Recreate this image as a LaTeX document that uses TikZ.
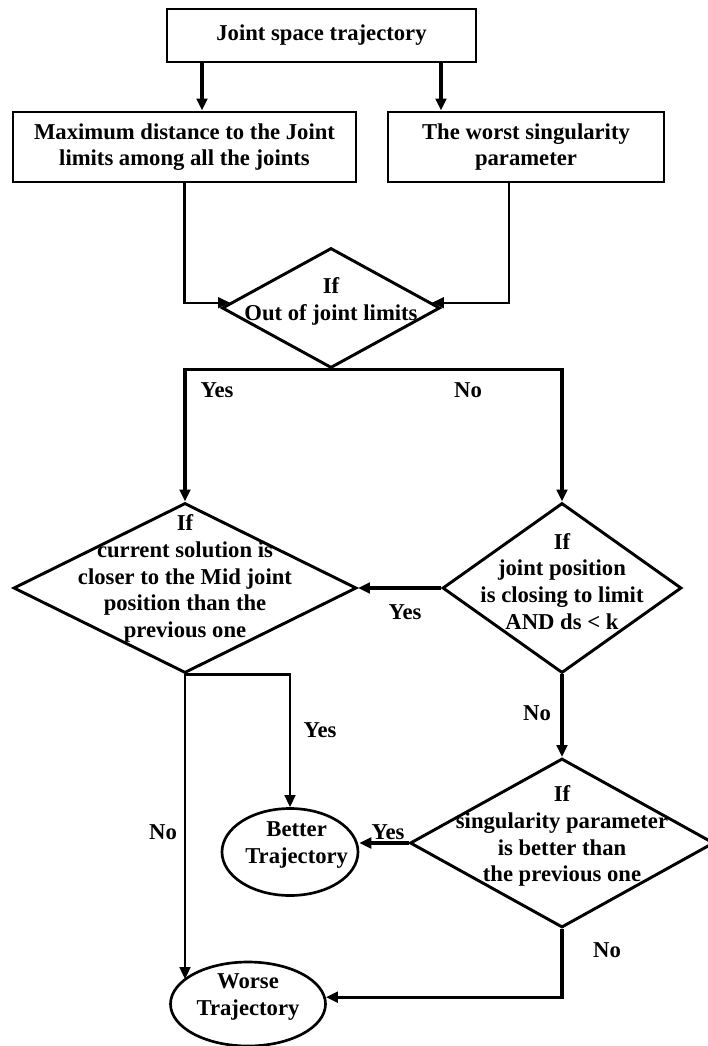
\documentclass[tikz,border=0pt]{standalone}
\usepackage{fontspec}
\setmainfont{Liberation Serif}
\usetikzlibrary{shapes.geometric,arrows.meta,positioning,calc}

\begin{document}
\begin{tikzpicture}[
    x=0.75pt, y=-0.75pt,
    >={Triangle[length=9pt,width=8pt]},
    textfont/.style={font=\fontsize{17}{20}\selectfont\bfseries},
    block/.style={
        rectangle,
        draw,
        line width=2.2pt,
        align=center,
        inner sep=0pt,
        textfont
    },
    decision/.style={
        diamond,
        draw,
        line width=2.2pt,
        inner sep=0pt
    },
    terminal/.style={
        ellipse,
        draw,
        line width=2pt,
        inner sep=0pt
    },
    inside/.style={textfont, align=center, inner sep=0pt, yshift=5pt},
    flowline/.style={draw, ->, line width=2.4pt},
    thinline/.style={draw, ->, line width=1.8pt},
    labelstyle/.style={textfont, inner sep=0pt}
]

\useasboundingbox (0,0) rectangle (707,1046);

% --- COORDINATES & NODES ---

\coordinate (split_l) at (202,0);
\coordinate (split_r) at (441,0);
\coordinate (join_r) at (509,0);

% Input
\node[block, minimum width=231.75pt, minimum height=39.75pt] (traj) at (321.5,35.5)
    {Joint space trajectory};

% Measures
\node[block, minimum width=257.25pt, minimum height=52.5pt] (maxdist) at (184.5,147)
    {Maximum distance to the Joint\\limits among all the joints};
\node[block, minimum width=207pt, minimum height=52.5pt] (worst) at (526,147)
    {The worst singularity\\parameter};

% Decisions
\node[decision, minimum width=163.5pt, minimum height=90pt,
    label={[inside]center:{If\\Out of joint limits}}] (limits) at (331,308) {};
\node[decision, minimum width=257.25pt, minimum height=127.5pt,
    label={[inside, yshift=2pt]center:{If\\current solution is\\closer to the Mid joint\\position than the\\previous one}}] (mid) at (185,588) {};
\node[decision, minimum width=179.25pt, minimum height=127.5pt,
    label={[inside]center:{If\\joint position\\is closing to limit\\AND ds {\textless} k}}] (closing) at (562,588) {};
\node[decision, minimum width=228pt, minimum height=126.75pt,
    label={[inside]center:{If\\singularity parameter\\is better than\\the previous one}}] (sing) at (562,843) {};

% Results
\node[terminal, minimum width=102pt, minimum height=65.25pt,
    label={[inside, xshift=5pt]center:{Better\\Trajectory}}] (better) at (290,852) {};
\node[terminal, minimum width=116.25pt, minimum height=63pt,
    label={[inside]center:{Worse\\Trajectory}}] (worse) at (248,1004) {};

% --- PATHS & ARROWS ---

\draw[flowline] (traj.south -| split_l) -- (maxdist.north -| split_l);
\draw[flowline] (traj.south -| split_r) -- (worst.north -| split_r);

\draw[thinline] (maxdist.south) |- (limits.177);
\draw[thinline] (worst.south -| join_r) |- (limits.3);

\draw[flowline] (limits.south) -| (mid.north);
\draw[flowline] (limits.south) -| (closing.north);

\draw[flowline] (closing.west) -- (mid.east);
\draw[flowline] (closing.south) -- (sing.north);

\draw[thinline] (mid.south) -| (better.north);
\draw[thinline] (mid.south) -- (mid.south |- worse.159);

\draw[flowline] (sing.west) -- (sing.west -| better.east);
\draw[flowline] (sing.south) |- (worse.5);

% Branch labels
\node[labelstyle] (yes_mid) at (217,390) {Yes};
\node[labelstyle] (no_closing) at (468,390) {No};
\node[labelstyle] (yes_closing) at (405,612) {Yes};
\node[labelstyle] (no_sing) at (537,713) {No};
\node[labelstyle] (yes_better) at (320,730) {Yes};
\node[labelstyle] (no_worse) at (163,832) {No};
\node[labelstyle] (yes_sing) at (388,832) {Yes};
\node[labelstyle] (no_bottom) at (607,950) {No};

\end{tikzpicture}
\end{document}
